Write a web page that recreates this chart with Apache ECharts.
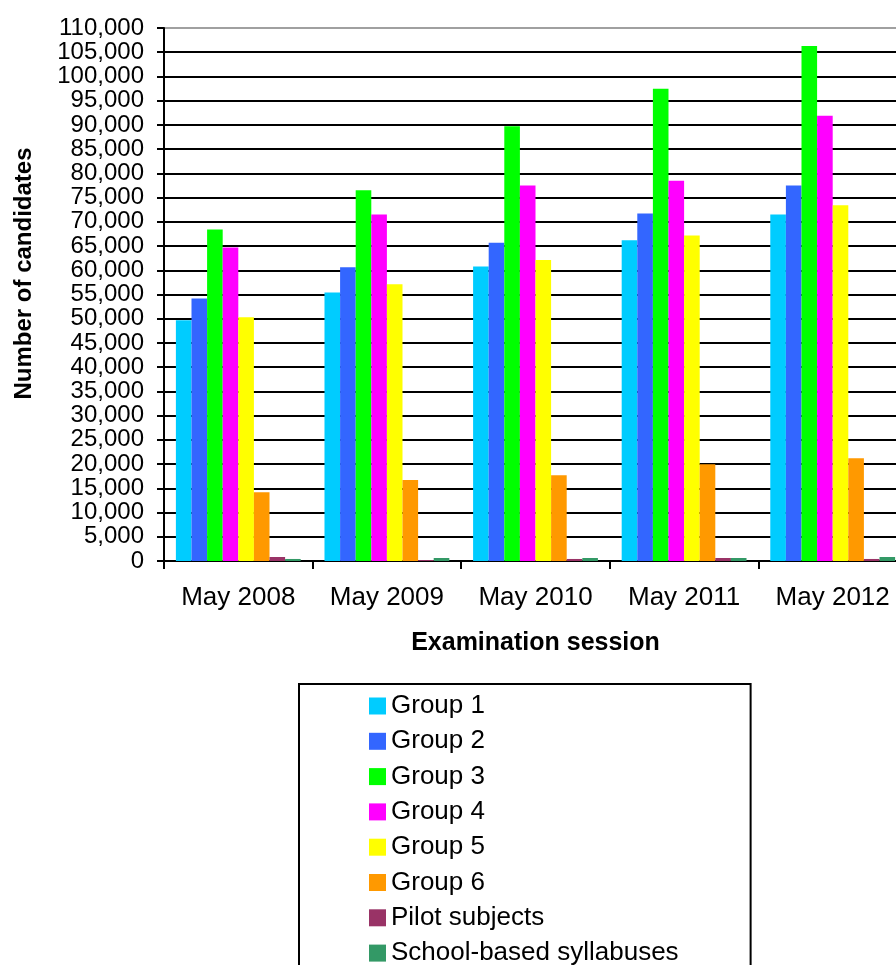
<!DOCTYPE html>
<html>
<head>
<meta charset="utf-8">
<script src="https://cdn.jsdelivr.net/npm/echarts@6/dist/echarts.min.js"></script>
<style>
html,body{margin:0;padding:0;background:#fff;overflow:hidden;width:896px;height:965px;}
#chart{width:920px;height:1100px;}
</style>
</head>
<body>
<div id="chart"></div>
<script>
var categories = ['May 2008', 'May 2009', 'May 2010', 'May 2011', 'May 2012'];
var seriesNames = ['Group 1', 'Group 2', 'Group 3', 'Group 4', 'Group 5', 'Group 6', 'Pilot subjects', 'School-based syllabuses'];
var group1 = [49700, 55400, 60800, 66200, 71500];
var group2 = [54200, 60600, 65700, 71700, 77500];
var group3 = [68400, 76500, 89700, 97450, 106300];
var group4 = [64700, 71500, 77500, 78500, 91900];
var group5 = [50300, 57100, 62100, 67200, 73400];
var group6 = [14200, 16700, 17700, 19950, 21200];
var pilotSubjects = [830, 200, 420, 625, 420];
var schoolBased = [420, 625, 625, 625, 830];
var colors = ['#00CCFF', '#3366FF', '#00FF00', '#FF00FF', '#FFFF00', '#FF9900', '#993366', '#339966'];

var allData = [group1, group2, group3, group4, group5, group6, pilotSubjects, schoolBased];
var FONT = "'Liberation Sans', Arial, sans-serif";

function fmt(v) {
  return String(v).replace(/\B(?=(\d{3})+(?!\d))/g, ',');
}

var chart = echarts.init(document.getElementById('chart'), null, {renderer: 'canvas'});

var series = seriesNames.map(function (name, i) {
  return {
    name: name,
    type: 'bar',
    data: allData[i],
    itemStyle: {color: colors[i]},
    barGap: '0%',
    barCategoryGap: '16%',
    animation: false
  };
});

var splitColors = [];
for (var k = 0; k < 23; k++) splitColors.push(k === 22 ? '#a0a0a0' : '#000');

chart.setOption({
  backgroundColor: '#fff',
  animation: false,
  textStyle: {fontFamily: FONT},
  grid: {left: 164, top: 28, width: 743, height: 533, containLabel: false},
  xAxis: {
    type: 'category',
    data: categories,
    name: 'Examination session',
    nameLocation: 'middle',
    nameGap: 70,
    nameTextStyle: {fontFamily: FONT, fontSize: 25, fontWeight: 'bold', color: '#000'},
    axisLine: {lineStyle: {color: '#000', width: 2}},
    axisTick: {show: true, length: 8, lineStyle: {color: '#000', width: 2}},
    axisLabel: {fontFamily: FONT, fontSize: 26, color: '#000', margin: 24}
  },
  yAxis: {
    type: 'value',
    min: 0,
    max: 110000,
    interval: 5000,
    name: 'Number of candidates',
    nameLocation: 'middle',
    nameGap: 128,
    nameRotate: 90,
    nameTextStyle: {fontFamily: FONT, fontSize: 24, fontWeight: 'bold', color: '#000', padding: [0, 0, 0, 42]},
    axisLine: {show: true, lineStyle: {color: '#000', width: 2}},
    axisTick: {show: true, length: 7, lineStyle: {color: '#000', width: 2}},
    axisLabel: {fontFamily: FONT, fontSize: 24, color: '#000', margin: 20, formatter: fmt},
    splitLine: {show: true, lineStyle: {color: splitColors, width: 2}}
  },
  legend: {
    orient: 'vertical',
    left: 299,
    top: 684,
    padding: [9, 72, 60, 70],
    itemGap: 9.3,
    itemWidth: 17,
    itemHeight: 17,
    icon: 'rect',
    borderColor: '#000',
    borderWidth: 2,
    backgroundColor: '#fff',
    textStyle: {fontFamily: FONT, fontSize: 26, color: '#000', lineHeight: 26},
    data: seriesNames
  },
  series: series
});
</script>
</body>
</html>
